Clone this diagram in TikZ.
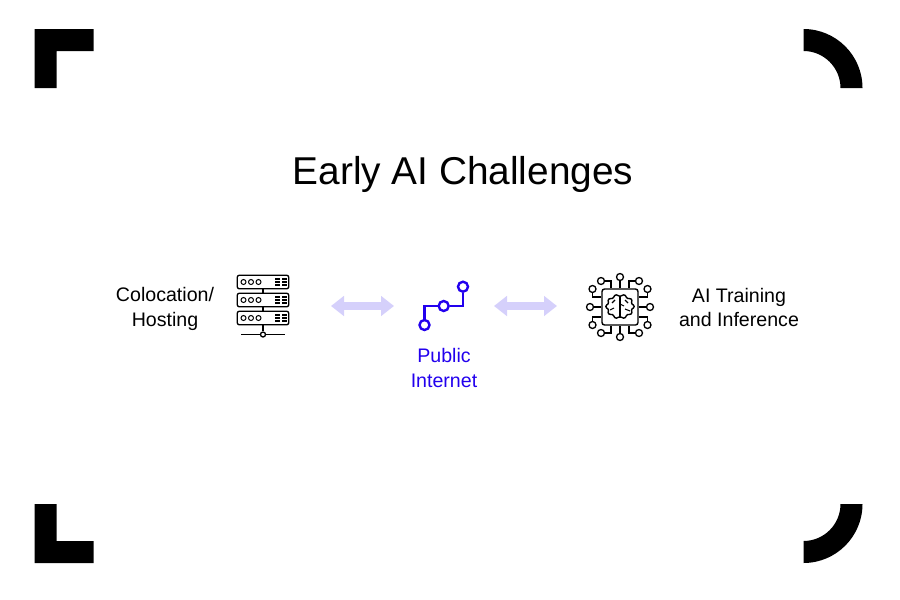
\documentclass[tikz,border=0pt]{standalone}
\usepackage{fontspec}
\setmainfont{Liberation Sans}
\usetikzlibrary{arrows.meta}
\definecolor{myblue}{HTML}{2200EE}
\definecolor{mylilac}{HTML}{D5D0FB}
\begin{document}
\begin{tikzpicture}[x=1pt,y=-1pt,
      corner/.style={fill=black},
      mytext/.style={align=center,font=\fontsize{19.6}{24.5}\selectfont},
      rack/.style={draw,rectangle,rounded corners=2pt,line width=1.3pt,minimum width=51.5pt,minimum height=13.5pt,inner sep=0pt},
      lamp/.style={draw,circle,line width=1pt,minimum size=5pt,inner sep=0pt},
      pin/.style={draw,circle,fill=white,line width=1.3pt,minimum size=7pt,inner sep=0pt},
      hop/.style={draw=myblue,circle,fill=white,line width=2.4pt,minimum size=10pt,inner sep=0pt},
      wire/.style={line width=1.3pt},
      pfeil/.style={mylilac,line width=8.5pt,{Triangle[length=13pt,width=19.5pt]}-{Triangle[length=13pt,width=19.5pt]}}]
    \useasboundingbox (0,0) rectangle (900,600);
    % frame
    \fill[corner] (34.5,29) -- (93.5,29) -- (93.5,51) -- (56.5,51) -- (56.5,88) -- (34.5,88) -- cycle ;
    \fill[corner] (34.5,504) -- (56.5,504) -- (56.5,541) -- (93.5,541) -- (93.5,563) -- (34.5,563) -- cycle ;
    \fill[corner] (803.5,29) .. controls (836,29) and (862.5,55.4) .. (862.5,88) -- (840.5,88) .. controls (840.5,67.6) and (823.9,51) .. (803.5,51) -- cycle ;
    \fill[corner] (862.5,504) .. controls (862.5,536.6) and (836,563) .. (803.5,563) -- (803.5,541) .. controls (823.9,541) and (840.5,524.4) .. (840.5,504) -- cycle ;
    \node[font=\fontsize{38.8}{46}\selectfont] at (463,174) (T0) {Early AI Challenges};
    % server
    \node[mytext] at (165,309) (L1) {Colocation/\\Hosting};
    \node[rack] at (263,282) (S1) {};
    \node[rack] at (263,300) (S2) {};
    \node[rack] at (263,318) (S3) {};
    \node[pin,minimum size=5pt] at (263,334.5) (S4) {};
    \coordinate (B0) at (241,334.5);
    \coordinate (B1) at (285,334.5);
    \draw[wire] (S1)--(S2) ;
    \draw[wire] (S2)--(S3) ;
    \draw[wire] (S3)--(S4) ;
    \draw[wire] (B0)--(S4) ;
    \draw[wire] (S4)--(B1) ;
    \foreach \y in {282,300,318} {
      \foreach \x in {243.5,251,258.5}
        \node[lamp] at (\x,\y) {};
      \foreach \x in {274.5,281.5}
        \foreach \d in {-3,0,3}
          \fill (\x,\y+\d-.7) rectangle (\x+5,\y+\d+.7);
    }
    % arrows
    \coordinate (A1) at (331,306);
    \coordinate (A2) at (394,306);
    \coordinate (A3) at (494,306);
    \coordinate (A4) at (557,306);
    \draw[pfeil] (A1)--(A2) ;
    \draw[pfeil] (A3)--(A4) ;
    % internet
    \node[hop] at (424.5,325) (P1) {};
    \node[hop] at (443.7,306) (P2) {};
    \node[hop] at (463,286.7) (P3) {};
    \draw[myblue,line width=2.4pt] (P1) |- (P2) ;
    \draw[myblue,line width=2.4pt] (P2) -| (P3) ;
    \node[mytext,text=myblue] at (444,368) (L2) {Public\\Internet};
    % chip
    \node[draw,rectangle,rounded corners=2.5pt,line width=1.4pt,minimum size=36pt,inner sep=0pt] at (620,307) (C0) {};
    \node[pin] at (620,277) (C1) {};
    \node[pin] at (620,337) (C2) {};
    \node[pin] at (590,307) (C3) {};
    \node[pin] at (650,307) (C4) {};
    \draw[wire] (C1)--(C0.north) ;
    \draw[wire] (C2)--(C0.south) ;
    \draw[wire] (C3)--(C0.west) ;
    \draw[wire] (C4)--(C0.east) ;
    \foreach \n/\x/\y/\tx/\side in {a/601/281/611/north,b/639/281/629/north,c/601/333/611/south,d/639/333/629/south} {
      \node[pin] at (\x,\y) (C\n) {};
      \coordinate (D\n) at (\tx,\y);
      \draw[wire] (C\n) -- (D\n) -- (D\n |- C0.\side);
    }
    \foreach \n/\x/\y/\ty/\side in {e/592.5/289/297/west,f/647.5/289/297/east,g/592.5/325/317/west,h/647.5/325/317/east} {
      \node[pin] at (\x,\y) (C\n) {};
      \coordinate (D\n) at (\x,\ty);
      \draw[wire] (C\n) -- (D\n) -- (D\n -| C0.\side);
    }
    % brain
    \draw[line width=1.4pt,line join=round] plot[smooth cycle,samples=48,domain=0:352.5] ({620+(13.2+1*cos(10*\x))*cos(\x)},{306.5+(11.2+1*cos(10*\x))*sin(\x)});
    \draw[line width=1.1pt] (620,295.5) -- (620,318);
    \draw[line width=1.1pt] (612,303) -- (615,300);
    \draw[line width=1.1pt] (610,310) -- (614,308);
    \draw[line width=1.1pt] (625,300) -- (628,303);
    \draw[line width=1.1pt] (625,309) -- (630,311);
    \draw[line width=1.1pt] (620,304) -- (624,306);
    \node[mytext] at (739,307.5) (L3) {AI Training\\and Inference};
  \end{tikzpicture}
\end{document}
